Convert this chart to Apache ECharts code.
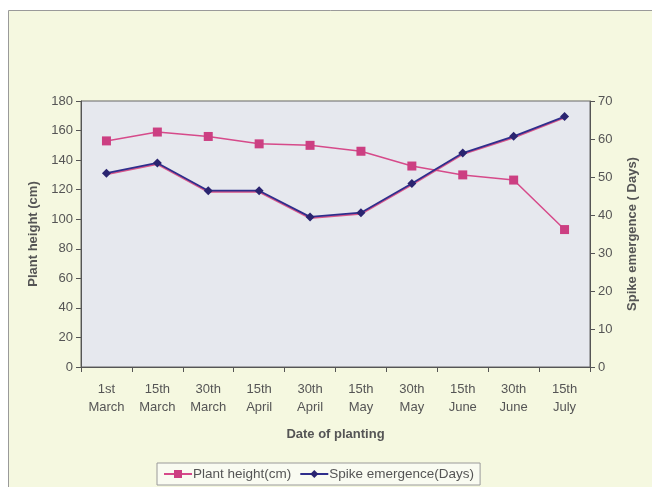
<!DOCTYPE html>
<html>
<head>
<meta charset="utf-8">
<script src="https://cdn.jsdelivr.net/npm/echarts@6/dist/echarts.min.js"></script>
<style>
  html, body { margin: 0; padding: 0; background: #ffffff; }
  #chart { width: 652px; height: 487px; }
</style>
</head>
<body>
<div id="chart"></div>
<script>
// Planting dates (two-line labels)
const plantingDates = [
  '1st\nMarch', '15th\nMarch', '30th\nMarch', '15th\nApril', '30th\nApril',
  '15th\nMay', '30th\nMay', '15th\nJune', '30th\nJune', '15th\nJuly'
];
// Plant height in cm (left axis)
const plantHeight = [153, 159, 156, 151, 150, 146, 136, 130, 126.5, 93];
// Days to spike emergence (right axis)
const spikeEmergence = [51, 53.7, 46.4, 46.4, 39.5, 40.6, 48.3, 56.3, 60.7, 65.9];

const heightTicks = { min: 0, max: 180, interval: 20 };
const daysTicks = { min: 0, max: 70, interval: 10 };

const textGray = '#555555';
const axisGray = '#555555';
const fontFamily = 'Liberation Sans, Arial, sans-serif';

const chart = echarts.init(document.getElementById('chart'), null, { renderer: 'canvas' });

chart.setOption({
  backgroundColor: '#ffffff',
  animation: false,
  textStyle: { fontFamily: fontFamily },
  graphic: [
    {
      type: 'rect',
      z: -10,
      shape: { x: 8.5, y: 10.5, width: 660, height: 490 },
      style: { fill: '#f5f8e0', stroke: '#9a9a9a', lineWidth: 1 }
    }
  ],
  grid: {
    left: 81, right: 62, top: 101, bottom: 120,
    show: true,
    backgroundColor: '#e6e8ee',
    borderColor: '#666666',
    borderWidth: 1
  },
  legend: {
    top: 463,
    left: 157,
    itemGap: 8,
    itemWidth: 28,
    itemHeight: 10,
    padding: [4, 6, 4, 6],
    borderColor: '#9a9a9a',
    borderWidth: 1,
    backgroundColor: '#f9fbf1',
    textStyle: { color: textGray, fontSize: 13.5, fontFamily: fontFamily, padding: [0, 0, 0, -4] },
    data: ['Plant height(cm)', 'Spike emergence(Days)']
  },
  xAxis: {
    type: 'category',
    data: plantingDates,
    boundaryGap: true,
    name: 'Date of planting',
    nameLocation: 'middle',
    nameGap: 61,
    nameTextStyle: { color: textGray, fontSize: 13, fontWeight: 'bold' },
    axisLine: { lineStyle: { color: axisGray, width: 1 } },
    axisTick: { show: true, length: 5, alignWithLabel: false, lineStyle: { color: axisGray } },
    axisLabel: { color: textGray, fontSize: 13, lineHeight: 18, margin: 13, interval: 0 },
    splitLine: { show: false }
  },
  yAxis: [
    {
      type: 'value',
      min: heightTicks.min, max: heightTicks.max, interval: heightTicks.interval,
      name: 'Plant height (cm)',
      nameLocation: 'middle',
      nameGap: 40,
      nameTextStyle: { color: textGray, fontSize: 13, fontWeight: 'bold' },
      axisLine: { show: true, lineStyle: { color: axisGray, width: 1 } },
      axisTick: { show: true, length: 5, lineStyle: { color: axisGray } },
      axisLabel: { color: textGray, fontSize: 13, margin: 8 },
      splitLine: { show: false }
    },
    {
      type: 'value',
      position: 'right',
      min: daysTicks.min, max: daysTicks.max, interval: daysTicks.interval,
      name: 'Spike emergence ( Days)',
      nameLocation: 'middle',
      nameGap: 36,
      nameTextStyle: { color: textGray, fontSize: 13, fontWeight: 'bold' },
      axisLine: { show: true, lineStyle: { color: axisGray, width: 1 } },
      axisTick: { show: true, length: 5, lineStyle: { color: axisGray } },
      axisLabel: { color: textGray, fontSize: 13, margin: 8 },
      splitLine: { show: false }
    }
  ],
  series: [
    {
      name: 'Plant height(cm)',
      type: 'line',
      yAxisIndex: 0,
      data: plantHeight,
      symbol: 'rect',
      symbolSize: 9,
      itemStyle: { color: '#cc3f82' },
      lineStyle: { color: '#d64a8a', width: 1.5 },
      z: 3
    },
    {
      name: 'Spike emergence(Days)',
      type: 'line',
      yAxisIndex: 1,
      data: spikeEmergence,
      symbol: 'diamond',
      symbolSize: 9,
      itemStyle: { color: '#2a2470' },
      lineStyle: {
        color: '#2f2e8c',
        width: 1.8,
        shadowColor: 'rgba(214, 60, 120, 0.85)',
        shadowBlur: 0,
        shadowOffsetY: 1.2
      },
      z: 4
    }
  ]
});
</script>
</body>
</html>
